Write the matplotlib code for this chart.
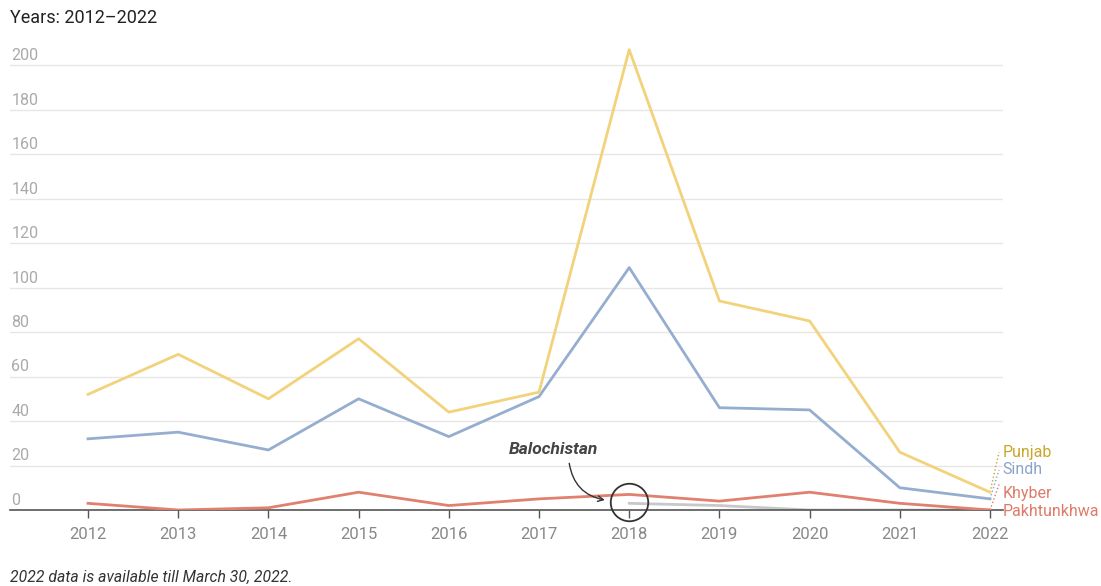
import matplotlib.pyplot as plt
import numpy as np

plt.rcParams['font.family'] = ['Roboto', 'DejaVu Sans']

years = [2012, 2013, 2014, 2015, 2016, 2017, 2018, 2019, 2020, 2021, 2022]
punjab = [52, 70, 50, 77, 44, 53, 207, 94, 85, 26, 8]
sindh = [32, 35, 27, 50, 33, 51, 109, 46, 45, 10, 5]
khyber = [3, 0, 1, 8, 2, 5, 7, 4, 8, 3, 0]
balochistan = [None, None, None, None, None, None, 3, 2, 0, 0, 0]
y_ticks = [0, 20, 40, 60, 80, 100, 120, 140, 160, 180, 200]

c_punjab = '#f2d27a'
c_sindh = '#95aecf'
c_khyber = '#e0806f'
c_baloch = '#c8c8c8'

fig = plt.figure(figsize=(11.01, 5.86), dpi=100)
ax = fig.add_axes([10 / 1101, 76 / 586, 993 / 1101, 467 / 586])
ax.set_xlim(2011.135, 2022.144)
ax.set_ylim(0, 210)

# grid + tick labels sitting above the lines
for v in y_ticks:
    if v > 0:
        ax.axhline(v, color='#e6e6e6', lw=1, zorder=0)
    ax.annotate(str(v), xy=(0, v), xycoords=('axes fraction', 'data'),
                xytext=(1, 1.5), textcoords='offset points',
                ha='left', va='bottom', color='#aaaaaa', fontsize=11.5)

bx = [y for y, v in zip(years, balochistan) if v is not None]
bv = [v for v in balochistan if v is not None]
ax.plot(bx, bv, color=c_baloch, lw=2, zorder=2)
ax.plot(years, khyber, color=c_khyber, lw=2, zorder=3)
ax.plot(years, sindh, color=c_sindh, lw=2, zorder=3)
ax.plot(years, punjab, color=c_punjab, lw=2, zorder=3)

for s in ['top', 'right', 'left']:
    ax.spines[s].set_visible(False)
ax.spines['bottom'].set_color('#555555')
ax.spines['bottom'].set_linewidth(1.2)
ax.set_yticks([])
ax.set_xticks(years)
ax.set_xticklabels([str(y) for y in years])
ax.tick_params(axis='x', colors='#555555', length=6, width=1, labelsize=12,
               labelcolor='#888888', pad=6)

# right-side labels with dotted connectors
last = years[-1]
labels = [('Punjab', punjab[-1], 26, '#c9a62a'),
          ('Sindh', sindh[-1], 18, '#8aa3c7'),
          ('Khyber', khyber[-1], 7.5, '#df7a69'),
          ('Pakhtunkhwa', khyber[-1], -0.5, '#df7a69')]
for name, yv, ty, col in labels:
    ax.text(last + 0.14, ty, name, color=col, fontsize=11.5, va='center',
            ha='left', clip_on=False)
for name, yv, ty, col in labels[:3]:
    ax.plot([last, last + 0.1], [yv, ty + (4 if name == 'Khyber' else 0)],
            color=col, lw=1, ls=':', clip_on=False)

# Balochistan annotation
ax.plot([2018], [3.6], marker='o', markersize=27, markerfacecolor='none',
        markeredgecolor='#333333', markeredgewidth=1.3, zorder=5, clip_on=False)
ax.text(2017.165, 27.4, 'Balochistan', fontsize=12.5, fontweight='bold',
        style='italic', color='#444444', ha='center', va='center')
ax.annotate('', xy=(2017.73, 4.5), xytext=(2017.335, 21),
            arrowprops=dict(arrowstyle='->', color='#333333', lw=1,
                            connectionstyle='arc3,rad=0.35',
                            shrinkA=0, shrinkB=0))

fig.text(10 / 1101, 1 - 18 / 586, 'Years: 2012\u20132022', fontsize=13,
         color='#222222', va='center', ha='left')
fig.text(10 / 1101, 1 - 577 / 586, '2022 data is available till March 30, 2022.',
         fontsize=11.3, style='italic', color='#333333', va='center', ha='left')

fig.savefig('out.png', dpi=100)
